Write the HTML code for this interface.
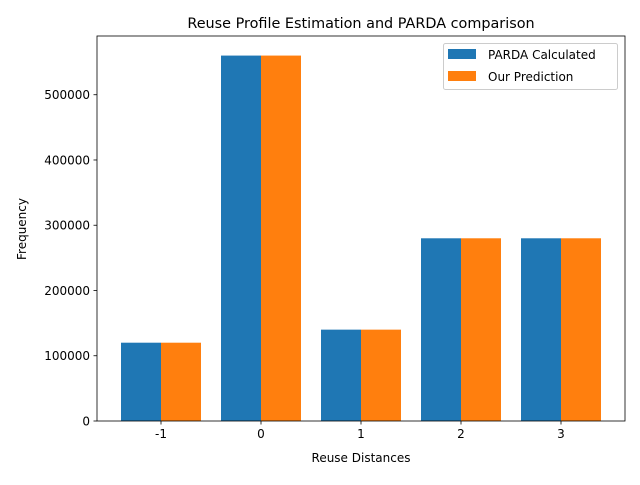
<!DOCTYPE html>
<html><head><meta charset="utf-8"><style>
body{margin:0;background:#fff;}
svg text{font-family:"DejaVu Sans","Liberation Sans",sans-serif;fill:#000;}
</style></head><body>
<svg id="chart" width="640" height="480" xmlns="http://www.w3.org/2000/svg">
<rect width="640" height="480" fill="#fff"/>
<text x="361" y="28" font-size="14.4" text-anchor="middle">Reuse Profile Estimation and PARDA comparison</text>
<g id="bars"></g>
<g id="axes"></g>
<text x="361" y="462" font-size="12" text-anchor="middle">Reuse Distances</text>
<text x="26" y="229" font-size="12" text-anchor="middle" transform="rotate(-90 26 229)">Frequency</text>
<g>
<rect x="443.5" y="43.5" width="174" height="46" fill="#fff" fill-opacity="0.8" stroke="#ccc" rx="2"/>
<rect x="448" y="49" width="28" height="10" fill="#1f77b4"/>
<text x="488" y="59" font-size="12">PARDA Calculated</text>
<rect x="448" y="71" width="28" height="10" fill="#ff7f0e"/>
<text x="488" y="81" font-size="12">Our Prediction</text>
</g>
</svg>
<script>
const categories=["-1","0","1","2","3"];
const partaValues=[120000,560000,140000,280000,280000];
const predValues=[120000,560000,140000,280000,280000];
const yTicks=[0,100000,200000,300000,400000,500000];
const L=97,R=625,T=36,B=421;
const xMin=-1.64,xMax=3.64,yMax=590000;
const NS="http://www.w3.org/2000/svg";
function xs(v){return L+(v-xMin)/(xMax-xMin)*(R-L);}
function ys(v){return B-v/yMax*(B-T);}
function mk(tag,attrs,parent){const e=document.createElementNS(NS,tag);for(const k in attrs)e.setAttribute(k,attrs[k]);parent.appendChild(e);return e;}
const bars=document.getElementById('bars'),axes=document.getElementById('axes');
categories.forEach((c,i)=>{
  const v=Number(c);
  const b1=mk('rect',{x:xs(v-0.4),y:ys(partaValues[i]),width:xs(v)-xs(v-0.4),height:ys(0)-ys(partaValues[i]),fill:'#1f77b4'},bars);
  
  
  const b2=mk('rect',{x:xs(v),y:ys(predValues[i]),width:xs(v+0.4)-xs(v),height:ys(0)-ys(predValues[i]),fill:'#ff7f0e'},bars);
  
  
  mk('line',{x1:xs(v),x2:xs(v),y1:B,y2:B+3.5,stroke:'#000','stroke-width':0.8},axes);
  const t=mk('text',{x:xs(v),y:B+17,'font-size':12,'text-anchor':'middle'},axes);
  t.textContent=c;
  
  
});
yTicks.forEach(v=>{
  mk('line',{x1:L-3.5,x2:L,y1:ys(v),y2:ys(v),stroke:'#000','stroke-width':0.8},axes);
  const t=mk('text',{x:L-7,y:ys(v)+4.5,'font-size':12,'text-anchor':'end'},axes);
  t.textContent=v;
  
  
});
const f=mk('rect',{x:L,y:T,width:R-L,height:B-T,fill:'none',stroke:'#000','stroke-width':0.8},axes);


</script>
</body></html>
